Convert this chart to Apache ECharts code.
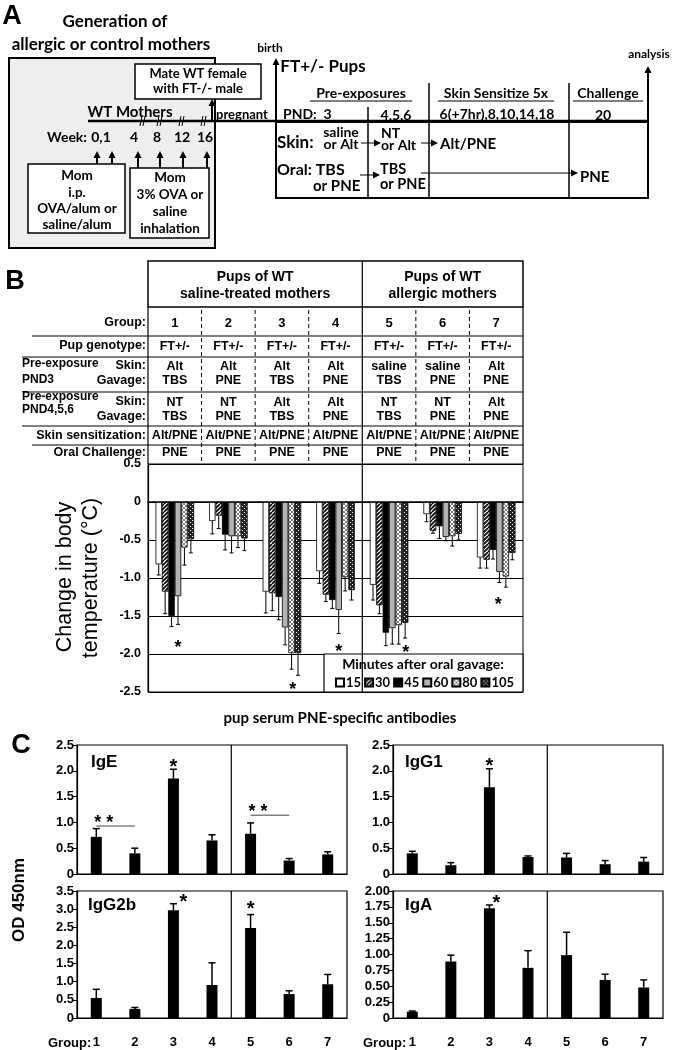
<!DOCTYPE html>
<html><head><meta charset="utf-8">
<script src="https://cdn.jsdelivr.net/npm/echarts@6/dist/echarts.min.js"></script>
<style>html,body{margin:0;padding:0;background:#fff}#c{width:678px;height:1050px}</style>
</head><body><div id="c"></div>
<script>
// ================= DATA =================
// Panel B table
const groups = ['1','2','3','4','5','6','7'];
const genotype = ['FT+/-','FT+/-','FT+/-','FT+/-','FT+/-','FT+/-','FT+/-'];
const pnd3Skin = ['Alt','Alt','Alt','Alt','saline','saline','Alt'];
const pnd3Gavage = ['TBS','PNE','TBS','PNE','TBS','PNE','PNE'];
const pnd456Skin = ['NT','NT','Alt','Alt','NT','NT','Alt'];
const pnd456Gavage = ['TBS','PNE','TBS','PNE','TBS','PNE','PNE'];
const skinSens = ['Alt/PNE','Alt/PNE','Alt/PNE','Alt/PNE','Alt/PNE','Alt/PNE','Alt/PNE'];
const oralChallenge = ['PNE','PNE','PNE','PNE','PNE','PNE','PNE'];
// Panel B: change in body temperature, by minutes after gavage
const minutes = ['15','30','45','60','80','105'];
const temp15 = [-0.82,-0.25,-1.18,-0.91,-1.09,-0.16,-0.73];
const temp15Err = [0.14,0.17,0.28,0.16,0.20,0.10,0.14];
const temp30 = [-1.18,-0.18,-1.20,-1.22,-1.36,-0.38,-0.76];
const temp30Err = [0.29,0.17,0.23,0.09,0.11,0.03,0.11];
const temp45 = [-1.50,-0.43,-1.25,-1.29,-1.72,-0.32,-0.63];
const temp45Err = [0.14,0.20,0.30,0.11,0.17,0.16,0.12];
const temp60 = [-1.24,-0.45,-1.65,-1.42,-1.66,-0.46,-0.92];
const temp60Err = [0.37,0.22,0.23,0.31,0.21,0.05,0.14];
const temp80 = [-0.60,-0.45,-1.99,-0.99,-1.62,-0.45,-0.98];
const temp80Err = [0.23,0.15,0.21,0.18,0.25,0.13,0.14];
const temp105 = [-0.49,-0.48,-1.99,-1.16,-1.59,-0.42,-0.67];
const temp105Err = [0.18,0.16,0.29,0.13,0.20,0.08,0.09];
const tempTicks = ['-2.5','-2.0','-1.5','-1.0','-0.5','0','0.5'];
// significance marks (fractional group position, value)
const sigB = [[0.06,-1.86],[2.2,-2.41],[3.06,-1.91],[4.31,-1.93],[6.04,-1.29]];
// Panel C: OD 450nm
const igE = [0.72,0.40,1.85,0.65,0.78,0.26,0.38];
const igEErr = [0.16,0.10,0.18,0.11,0.21,0.04,0.05];
const igG1 = [0.40,0.17,1.68,0.33,0.32,0.19,0.24];
const igG1Err = [0.04,0.05,0.36,0.02,0.08,0.07,0.08];
const igG2b = [0.55,0.25,2.97,0.91,2.48,0.66,0.93];
const igG2bErr = [0.24,0.04,0.18,0.61,0.37,0.09,0.27];
const igA = [0.10,0.89,1.73,0.79,0.99,0.60,0.48];
const igAErr = [0.01,0.10,0.05,0.27,0.36,0.09,0.12];
const ticks25 = ['0','0.5','1.0','1.5','2.0','2.5'];
const ticks35 = ['0','0.5','1.0','1.5','2.0','2.5','3.0','3.5'];
const ticks200 = ['0','0.25','0.50','0.75','1.00','1.25','1.50','1.75','2.00'];
const sigIgE = [[2,2.17]];
const pairIgE = [[0,1,0.93],[4,5,1.14]];
const sigIgG1 = [[2,2.19]];
const sigIgG2b = [[2.26,3.33],[4,3.14]];
const sigIgA = [[2.18,1.89]];
const motherSplit = [[4,0]]; // boundary before group 5 (allergic mothers)

// ================= STYLE / LAYOUT =================
const FA = '"Liberation Sans", Arial, sans-serif';
const FC = 'Lato, "Open Sans", sans-serif';
function pat(w, h, draw){const c=document.createElement('canvas');c.width=w;c.height=h;const x=c.getContext('2d');draw(x,w,h);return {image:c,repeat:'repeat'};}
const fillHatch = pat(8,8,(x,w,h)=>{x.fillStyle='#fff';x.fillRect(0,0,w,h);x.strokeStyle='#000';x.lineWidth=1.7;for(let i=-8;i<=8;i+=4){x.beginPath();x.moveTo(i,h);x.lineTo(i+h,0);x.stroke();}});
const fillCross = pat(8,8,(x,w,h)=>{x.fillStyle='#fff';x.fillRect(0,0,w,h);x.strokeStyle='#808080';x.lineWidth=1;for(let i=-8;i<=8;i+=4){x.beginPath();x.moveTo(i,h);x.lineTo(i+h,0);x.stroke();x.beginPath();x.moveTo(i,0);x.lineTo(i+h,h);x.stroke();}});
const fillCheck = pat(4,4,(x,w,h)=>{x.fillStyle='#222';x.fillRect(0,0,w,h);x.fillStyle='#fff';x.fillRect(0,0,1,1);x.fillRect(2,2,1,1);});
const fills = ['#ffffff', fillHatch, '#000000', '#b3b3b3', fillCross, fillCheck];

const BL=148, BT=464, BW=375, BH=228; const colW = BW/7;
const CG = [
  {left:77, top:745, h:129},
  {left:393, top:745, h:129},
  {left:77, top:891, h:127},
  {left:393, top:891, h:127}
];
const CW = 270;

// ================= GRAPHICS =================
const G=[];
function T(x,y,text,o={}){G.push({type:'text',x,y,rotation:o.rot||0,z:100,style:{text,font:o.font||('bold 13px '+FC),fill:'#000',align:o.align||'center',verticalAlign:'middle'}});}
function L(x1,y1,x2,y2,w=1,dash){G.push({type:'line',z:50,shape:{x1,y1,x2,y2},style:{stroke:'#000',lineWidth:w,lineDash:dash||null}});}
function R(x,y,w,h,fill='#fff',lw=1.5,z=40){G.push({type:'rect',z,shape:{x,y,width:w,height:h},style:{fill,stroke:'#000',lineWidth:lw}});}
function up(x,y1,y2){L(x,y1,x,y2+6,2);G.push({type:'polygon',z:51,shape:{points:[[x-3.5,y2+7],[x+3.5,y2+7],[x,y2]]},style:{fill:'#000'}});}
function right(x1,x2,y,w=1){L(x1,y,x2-6,y,w);G.push({type:'polygon',z:51,shape:{points:[[x2-7,y-3.5],[x2-7,y+3.5],[x2,y]]},style:{fill:'#000'}});}
const fA=s=>'bold '+s+'px '+FA, fC=s=>'bold '+s+'px '+FC;

// ---- Panel A ----
T(12,17,'A',{font:fA(27)});
T(115,22,'Generation of',{font:fC(17)});
T(111,45,'allergic or control mothers',{font:fC(17)});
R(9,58,206,190,'#eeeeee',2,30);
R(135,64,126,35,'#fff',1.5);
T(198,74,'Mate WT female',{font:fC(13)});
T(198,89,'with FT-/- male',{font:fC(13)});
L(88,121,648,121,2.5);
T(130,112,'WT Mothers',{font:fC(15)});
[143,160,182,204].forEach(x=>{L(x-3,126,x-1,116,1);L(x,126,x+2,116,1);});
up(212,121,99);
T(67,137,'Week:',{font:fC(14)});
[['0,1',101],['4',134],['8',157],['12',182],['16',205]].forEach(a=>T(a[1],137,a[0],{font:fC(14)}));
[[97,164],[112,164],[138,168],[160,168],[183,168],[207,168]].forEach(a=>up(a[0],a[1],151));
R(28,164,97,69);
[['Mom',176],['i.p.',193],['OVA/alum or',209],['saline/alum',225]].forEach(a=>T(77,a[1],a[0],{font:fC(13.5)}));
R(130,168,79,70);
[['Mom',178],['3% OVA or',195],['saline',212],['inhalation',229]].forEach(a=>T(170,a[1],a[0],{font:fC(13.5)}));
T(242,115,'pregnant',{font:fC(13)});
up(276,121,58);
T(270,48,'birth',{font:fC(12)});
T(323,67,'FT+/- Pups',{font:fC(17)});
T(361,93,'Pre-exposures',{font:fC(14)}); L(310,101,412,101,1.2);
T(496,93,'Skin Sensitize 5x',{font:fC(14)}); L(438,101,554,101,1.2);
T(608,93,'Challenge',{font:fC(14)}); L(573,101,643,101,1.2);
L(429,83,429,198,1.5); L(569,83,569,198,1.5); L(368,107,368,198,1.5);
T(283,114,'PND:  3',{font:fC(14),align:'left'});
T(396,115,'4,5,6',{font:fC(14)});
T(497,114,'6(+7hr),8,10,14,18',{font:fC(14)});
T(603,115,'20',{font:fC(14)});
R(276,122,372,76,'#fff',2);
T(277,143,'Skin:',{font:fC(17),align:'left'});
T(341,132,'saline',{font:fC(14)}); T(341,144,'or Alt',{font:fC(14)});
right(361,381,143);
T(381,133,'NT',{font:fC(14),align:'left'}); T(381,145,'or Alt',{font:fC(14),align:'left'});
right(421,438,143);
T(440,144,'Alt/PNE',{font:fC(15),align:'left'});
T(277,170,'Oral: TBS',{font:fC(16),align:'left'});
T(313,186,'or PNE',{font:fC(15),align:'left'});
right(360,380,175);
T(380,169,'TBS',{font:fC(14.5),align:'left'}); T(380,184,'or PNE',{font:fC(14.5),align:'left'});
right(421,578,173);
T(580,177,'PNE',{font:fC(15),align:'left'});
up(648,122,66);
T(649,54,'analysis',{font:fC(12)});

// ---- Panel B table ----
T(15,282,'B',{font:fA(27)});
R(BL,261,BW,46,'#fff',1.5);
const bx = k => BL + colW*k;
L(bx(4),261,bx(4),BT,1.2);
T((bx(0)+bx(4))/2,277,'Pups of WT',{font:fA(14)}); T((bx(0)+bx(4))/2,294,'saline-treated mothers',{font:fA(14)});
T((bx(4)+bx(7))/2,277,'Pups of WT',{font:fA(14)}); T((bx(4)+bx(7))/2,294,'allergic mothers',{font:fA(14)});
L(BL,307,BL,BT,1.2); L(bx(7),307,bx(7),BT,1.2);
[1,2,3,5,6].forEach(k=>L(bx(k),310,bx(k),BT,1,[4,3]));
L(32,336,bx(7),336,1); L(22,357,bx(7),357,1); L(22,392,bx(7),392,1); L(22,426,bx(7),426,1); L(32,445,bx(7),445,1);
const lf = fA(12.5);
[['Group:',323],['Pup genotype:',346],['Skin:',366],['Gavage:',381],['Skin:',402],['Gavage:',417],['Skin sensitization:',436],['Oral Challenge:',453]].forEach(a=>T(146,a[1],a[0],{font:lf,align:'right'}));
[['Pre-exposure',364],['PND3',380],['Pre-exposure',397],['PND4,5,6',410]].forEach(a=>T(22,a[1],a[0],{font:fA(12),align:'left'}));
const rows = [[groups,323,13],[genotype,347,12.5],[pnd3Skin,367,12.5],[pnd3Gavage,381,12.5],[pnd456Skin,403,12.5],[pnd456Gavage,417,12.5],[skinSens,436,12.5],[oralChallenge,453,12.5]];
rows.forEach(r=>r[0].forEach((t,g)=>T(bx(g+0.5),r[1],t,{font:fA(r[2])})));
// axis title
T(65,577,'Change in body',{font:'21.5px '+FA,rot:Math.PI/2});
T(91,578,'temperature (\u00B0C)',{font:'21.5px '+FA,rot:Math.PI/2});
// legend box
R(324,654,bx(7)-324,38,'#fff',1.2,3);
T(423,664,'Minutes after oral gavage:',{font:fC(14)});

// ---- Panel C ----
T(340,718,'pup serum PNE-specific antibodies',{font:fC(15)});
T(21,746,'C',{font:fA(27)});
T(19,900,'OD 450nm',{font:fA(17),rot:Math.PI/2});
T(91,762,'IgE',{font:fA(17),align:'left'});
T(405,762,'IgG1',{font:fA(17),align:'left'});
T(88,905,'IgG2b',{font:fA(17),align:'left'});
T(405,905,'IgA',{font:fA(17),align:'left'});
T(48,1043,'Group:',{font:fA(13),align:'left'});
T(363,1043,'Group:',{font:fA(13),align:'left'});

// ================= OPTION =================
const grids=[{left:BL,top:BT,width:BW,height:BH,show:true,borderColor:'#000',borderWidth:1}];
CG.forEach(c=>grids.push({left:c.left,top:c.top,width:CW,height:c.h,show:true,borderColor:'#000',borderWidth:1.2}));
const xAxes=[], yAxes=[];
xAxes.push({type:'category',gridIndex:0,data:groups,axisLine:{onZero:true,lineStyle:{color:'#000',width:1.5}},axisTick:{show:false},axisLabel:{show:false},splitLine:{show:false}});
yAxes.push({type:'value',gridIndex:0,min:-2.5,max:0.5,interval:0.5,axisLine:{show:true,lineStyle:{color:'#000',width:1.2}},axisTick:{show:false},
  axisLabel:{formatter:(v,i)=>tempTicks[i],color:'#000',fontFamily:FA,fontWeight:'bold',fontSize:12.5,margin:7},
  splitLine:{show:true,lineStyle:{color:'#000',width:1}}});
const cDefs=[
  {data:igE,err:igEErr,max:2.5,iv:0.5,ticks:ticks25,sig:sigIgE,pairs:pairIgE,lab:false},
  {data:igG1,err:igG1Err,max:2.5,iv:0.5,ticks:ticks25,sig:sigIgG1,pairs:[],lab:false},
  {data:igG2b,err:igG2bErr,max:3.5,iv:0.5,ticks:ticks35,sig:sigIgG2b,pairs:[],lab:true},
  {data:igA,err:igAErr,max:2,iv:0.25,ticks:ticks200,sig:sigIgA,pairs:[],lab:true}
];
cDefs.forEach((d,i)=>{
  const gi=i+1;
  xAxes.push({type:'category',gridIndex:gi,data:groups,axisLine:{lineStyle:{color:'#000',width:1.2}},axisTick:{show:false},
    axisLabel:{show:d.lab,color:'#000',fontFamily:FA,fontWeight:'bold',fontSize:13,margin:18},splitLine:{show:false}});
  yAxes.push({type:'value',gridIndex:gi,min:0,max:d.max,interval:d.iv,axisLine:{show:true,lineStyle:{color:'#000',width:1.2}},
    axisTick:{show:true,length:4,lineStyle:{color:'#000'}},
    axisLabel:{formatter:(v,k)=>d.ticks[k],color:'#000',fontFamily:FA,fontWeight:'bold',fontSize:13,margin:3},
    splitLine:{show:false}});
});

const series=[];
function divider(xi,w){return {type:'custom',xAxisIndex:xi,yAxisIndex:xi,z:4,encode:{x:0,y:1},data:motherSplit,
  renderItem(p,api){const band=api.size([1,0])[0];const c=api.coord([api.value(0),api.value(1)]);const cs=p.coordSys;const x=c[0]-band/2;
    return {type:'line',shape:{x1:x,y1:cs.y,x2:x,y2:cs.y+cs.height},style:{stroke:'#000',lineWidth:w}};}};}
series.push(divider(0,1.2));
const tempMeans=[temp15,temp30,temp45,temp60,temp80,temp105];
const tempErrs=[temp15Err,temp30Err,temp45Err,temp60Err,temp80Err,temp105Err];
minutes.forEach((m,k)=>series.push({type:'bar',name:m,xAxisIndex:0,yAxisIndex:0,barGap:'0%',barCategoryGap:'28%',
  itemStyle:{color:fills[k],borderColor:'#000',borderWidth:0.8},data:tempMeans[k]}));
const errB=[];
tempMeans.forEach((arr,k)=>arr.forEach((v,g)=>errB.push([g,v,v-tempErrs[k][g],k])));
series.push({type:'custom',xAxisIndex:0,yAxisIndex:0,z:5,encode:{x:0,y:[1,2]},data:errB,
  renderItem(p,api){const g=api.value(0),k=api.value(3);const band=api.size([1,0])[0];const bw=band*0.72/6;
    const a=api.coord([g,api.value(1)]),b=api.coord([g,api.value(2)]);const x=a[0]+(k-2.5)*bw;
    return {type:'group',children:[{type:'line',shape:{x1:x,y1:a[1],x2:x,y2:b[1]},style:{stroke:'#000',lineWidth:1}},
      {type:'line',shape:{x1:x-2,y1:b[1],x2:x+2,y2:b[1]},style:{stroke:'#000',lineWidth:1}}]};}});
function starSeries(xi,data,size){return {type:'custom',xAxisIndex:xi,yAxisIndex:xi,z:6,encode:{x:0,y:1},data:data.map(s=>[Math.floor(s[0]),s[1],s[0]-Math.floor(s[0])]),
  renderItem(p,api){const band=api.size([1,0])[0];const c=api.coord([api.value(0),api.value(1)]);
    return {type:'text',x:c[0]+api.value(2)*band,y:c[1]+size*0.25,style:{text:'*',font:'bold '+size+'px '+FA,fill:'#000',align:'center',verticalAlign:'middle'}};}};}
series.push(starSeries(0,sigB,18));
cDefs.forEach((d,i)=>{
  const gi=i+1;
  series.push(divider(gi,1.2));
  series.push({type:'bar',xAxisIndex:gi,yAxisIndex:gi,barWidth:11,itemStyle:{color:'#000'},data:d.data});
  series.push({type:'custom',xAxisIndex:gi,yAxisIndex:gi,z:5,encode:{x:0,y:[1,2]},data:d.data.map((v,g)=>[g,v,v+d.err[g]]),
    renderItem(p,api){const a=api.coord([api.value(0),api.value(1)]),b=api.coord([api.value(0),api.value(2)]);
      return {type:'group',children:[{type:'line',shape:{x1:a[0],y1:a[1],x2:a[0],y2:b[1]},style:{stroke:'#000',lineWidth:1.5}},
        {type:'line',shape:{x1:a[0]-3.5,y1:b[1],x2:a[0]+3.5,y2:b[1]},style:{stroke:'#000',lineWidth:1.5}}]};}});
  series.push(starSeries(gi,d.sig,20));
  if(d.pairs.length) series.push({type:'custom',xAxisIndex:gi,yAxisIndex:gi,z:6,encode:{x:[0,1],y:2},data:d.pairs,
    renderItem(p,api){const a=api.coord([api.value(0),api.value(2)]),b=api.coord([api.value(1),api.value(2)]);
      return {type:'group',children:[{type:'line',shape:{x1:a[0],y1:a[1],x2:b[0],y2:b[1]},style:{stroke:'#444',lineWidth:1}},
        {type:'text',x:a[0]-2,y:a[1]-3,style:{text:'* *',font:'bold 18px '+FA,fill:'#000',align:'left',verticalAlign:'middle'}}]};}});
});

const chart=echarts.init(document.getElementById('c'),null,{renderer:'canvas'});
chart.setOption({
  animation:false, backgroundColor:'#fff',
  grid:grids, xAxis:xAxes, yAxis:yAxes, series,
  legend:{data:minutes,left:335,top:676,itemWidth:8,itemHeight:8,itemGap:3,icon:'rect',padding:0,selectedMode:false,z:10,
    textStyle:{fontFamily:FC,fontWeight:'bold',fontSize:13,color:'#000',padding:[0,0,0,-3]}},
  graphic:{elements:G}
});
</script></body></html>
